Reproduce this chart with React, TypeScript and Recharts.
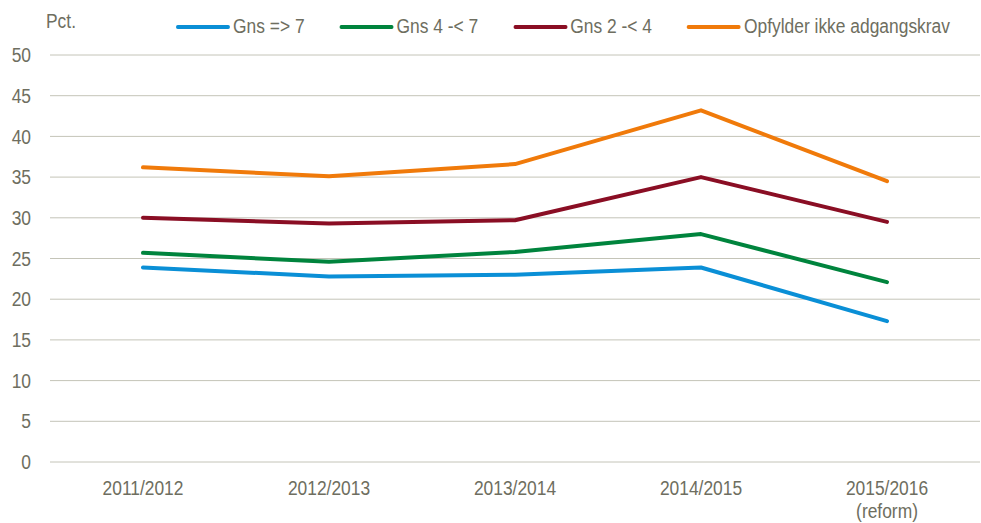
import React from "react";
import { LineChart, Line, XAxis, YAxis, CartesianGrid } from "recharts";

const categories = ["2011/2012", "2012/2013", "2013/2014", "2014/2015", "2015/2016\n(reform)"];
const gns7 = [23.9, 22.8, 23.0, 23.9, 17.3];
const gns4 = [25.7, 24.6, 25.8, 28.0, 22.1];
const gns2 = [30.0, 29.3, 29.7, 35.0, 29.5];
const opfylder = [36.2, 35.1, 36.6, 43.2, 34.5];
const yTicks = [0, 5, 10, 15, 20, 25, 30, 35, 40, 45, 50];

const series = [
  { key: "gns7", name: "Gns => 7", color: "#0A8FD6" },
  { key: "gns4", name: "Gns 4 -< 7", color: "#00843D" },
  { key: "gns2", name: "Gns 2 -< 4", color: "#8A0E24" },
  { key: "opf", name: "Opfylder ikke adgangskrav", color: "#F07A0A" },
];

const data = categories.map((c, i) => ({
  cat: c,
  gns7: gns7[i],
  gns4: gns4[i],
  gns2: gns2[i],
  opf: opfylder[i],
}));

const FONT = "'Liberation Sans', Arial, sans-serif";
const TEXT = "#6E6E60";
const SX = 0.87;

const XTick = (props: any) => {
  const { x, y, payload } = props;
  const lines = String(payload.value).split("\n");
  return (
    <g>
      {lines.map((l, i) => (
        <text
          key={i}
          x={0}
          y={0}
          transform={`translate(${x},${y + 25 + i * 23}) scale(${SX},1)`}
          textAnchor="middle"
          fill={TEXT}
          fontSize={20}
          fontFamily={FONT}
        >
          {l}
        </text>
      ))}
    </g>
  );
};

const YTick = (props: any) => {
  const { x, y, payload } = props;
  return (
    <text
      x={0}
      y={0}
      dy="0.355em"
      transform={`translate(${x},${y}) scale(${SX},1)`}
      textAnchor="end"
      fill={TEXT}
      fontSize={20}
      fontFamily={FONT}
    >
      {payload.value}
    </text>
  );
};

const LegendBox = () => (
  <div
    style={{
      position: "absolute",
      left: 176,
      top: 15,
      display: "flex",
      alignItems: "center",
      whiteSpace: "nowrap",
      fontFamily: FONT,
      fontSize: 20,
      color: TEXT,
      transform: `scaleX(${SX})`,
      transformOrigin: "left center",
    }}
  >
    {series.map((s) => (
      <div key={s.key} style={{ display: "flex", alignItems: "center", marginRight: 35 / SX }}>
        <div style={{ width: 54 / SX, height: 4, background: s.color, borderRadius: 2, marginRight: 3 / SX }} />
        <span>{s.name}</span>
      </div>
    ))}
  </div>
);

export default function App() {
  return (
    <div style={{ position: "absolute", left: 0, top: 0, width: 981, height: 523, background: "#fff" }}>
      <div
        style={{
          position: "absolute",
          left: 46,
          top: 10,
          fontFamily: FONT,
          fontSize: 20,
          color: TEXT,
          transform: `scaleX(${SX})`,
          transformOrigin: "left center",
        }}
      >
        Pct.
      </div>
      <LegendBox />
      <LineChart width={981} height={523} data={data} margin={{ top: 55, right: 1, left: 0, bottom: 31 }}>
        <CartesianGrid vertical={false} stroke="#C4C4B8" strokeWidth={1} />
        <XAxis dataKey="cat" scale="band" tickLine={false} axisLine={false} tick={<XTick />} interval={0} />
        <YAxis
          width={50}
          domain={[0, 50]}
          ticks={yTicks}
          tickLine={false}
          axisLine={false}
          tickMargin={13}
          tick={<YTick />}
        />
        {series.map((s) => (
          <Line
            key={s.key}
            dataKey={s.key}
            name={s.name}
            stroke={s.color}
            strokeWidth={4}
            dot={false}
            strokeLinecap="round"
            strokeLinejoin="round"
            isAnimationActive={false}
          />
        ))}
      </LineChart>
    </div>
  );
}
